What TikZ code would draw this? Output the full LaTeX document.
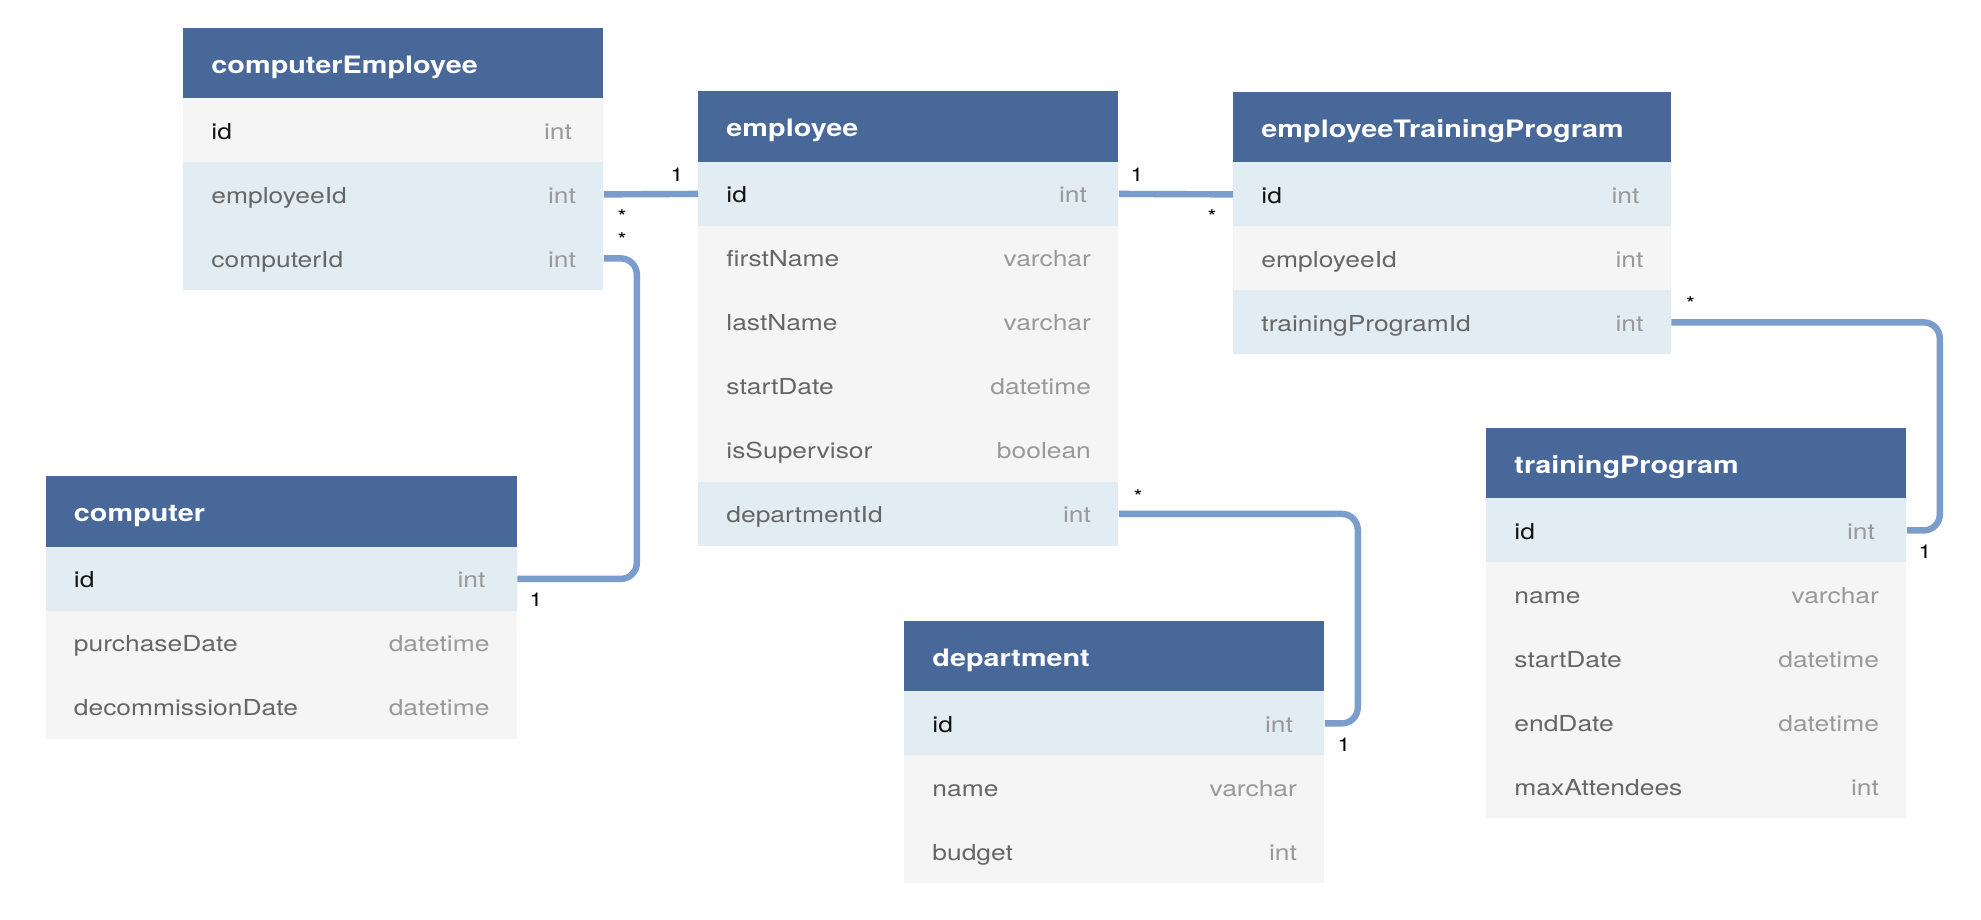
\documentclass[tikz,border=0pt]{standalone}
\usepackage{fontspec}
\newfontfamily\erdf{TeX Gyre Heros}[FakeStretch=1.2]
\usetikzlibrary{calc}
\definecolor{hdrc}{HTML}{48689A}
\definecolor{rowblue}{HTML}{E1ECF3}
\definecolor{rowgrey}{HTML}{F5F5F5}
\definecolor{linec}{HTML}{7B9DCC}
\definecolor{namec}{HTML}{666666}
\definecolor{typec}{HTML}{999999}
\definecolor{idc}{HTML}{111111}
\tikzset{
  hdr/.style={fill=hdrc, draw=none, inner sep=0pt, minimum height=35.25pt},
  hdrtxt/.style={inner sep=0pt, text=white, font=\erdf\fontsize{12}{14}\selectfont\bfseries},
  rowbox/.style={draw=none, inner sep=0pt, minimum height=32pt},
  fld/.style={inner sep=0pt, font=\erdf\fontsize{11}{13}\selectfont},
  typ/.style={inner sep=0pt, text=typec, font=\erdf\fontsize{11}{13}\selectfont},
  lbl/.style={inner sep=0pt, text=black, font=\erdf\fontsize{9.5}{11}\selectfont},
  conn/.style={draw=linec, line width=3.2pt, rounded corners=8pt}
}
\newcommand\tbl[5]{%
  \node[hdr, minimum width=#4*0.5pt, anchor=north west] (#1-h) at (#2,#3) {};
  \node[hdrtxt, anchor=base west] (#1-ht) at ($(#1-h.west)+(28,10)$) {#5};
  \gdef\tblkey{#1}\gdef\tblx{#2}\gdef\tbly{#3}\gdef\tblw{#4}}
\newcommand\trow[6]{%
  \node[rowbox, fill=#4, minimum width=\tblw*0.5pt, anchor=north west] (\tblkey-#2) at (\tblx,\tbly+70.5+64*#1) {};
  \node[fld, text=#5, anchor=base west] (\tblkey-#2-n) at ($(\tblkey-#2.west)+(28,9)$) {#2};
  \node[typ, anchor=base east] (\tblkey-#2-t) at ($(\tblkey-#2.east)+(-#6,9)$) {#3};}
\begin{document}
\begin{tikzpicture}[x=0.5pt, y=-0.5pt]
\fill[white] (0,0) rectangle (1981,920);
\useasboundingbox (0,0) rectangle (1981,920);

% computerEmployee
\tbl{ce}{183}{27.5}{420}{computerEmployee}
\trow{0}{id}{int}{rowgrey}{idc}{31.5}
\trow{1}{employeeId}{int}{rowblue}{namec}{27.5}
\trow{2}{computerId}{int}{rowblue}{namec}{27.5}

% employee
\tbl{emp}{698}{91}{420}{employee}
\trow{0}{id}{int}{rowblue}{idc}{31.5}
\trow{1}{firstName}{varchar}{rowgrey}{namec}{27.5}
\trow{2}{lastName}{varchar}{rowgrey}{namec}{27.5}
\trow{3}{startDate}{datetime}{rowgrey}{namec}{27.5}
\trow{4}{isSupervisor}{boolean}{rowgrey}{namec}{27.5}
\trow{5}{departmentId}{int}{rowblue}{namec}{27.5}

% employeeTrainingProgram
\tbl{etp}{1233}{91.5}{437.5}{employeeTrainingProgram}
\trow{0}{id}{int}{rowblue}{idc}{31.5}
\trow{1}{employeeId}{int}{rowgrey}{namec}{27.5}
\trow{2}{trainingProgramId}{int}{rowblue}{namec}{27.5}

% computer
\tbl{comp}{45.5}{476}{471}{computer}
\trow{0}{id}{int}{rowblue}{idc}{31.5}
\trow{1}{purchaseDate}{datetime}{rowgrey}{namec}{27.5}
\trow{2}{decommissionDate}{datetime}{rowgrey}{namec}{27.5}

% department
\tbl{dep}{904}{620.5}{420}{department}
\trow{0}{id}{int}{rowblue}{idc}{31.5}
\trow{1}{name}{varchar}{rowgrey}{namec}{27.5}
\trow{2}{budget}{int}{rowgrey}{namec}{27.5}

% trainingProgram
\tbl{tp}{1486}{427.5}{420}{trainingProgram}
\trow{0}{id}{int}{rowblue}{idc}{31.5}
\trow{1}{name}{varchar}{rowgrey}{namec}{27.5}
\trow{2}{startDate}{datetime}{rowgrey}{namec}{27.5}
\trow{3}{endDate}{datetime}{rowgrey}{namec}{27.5}
\trow{4}{maxAttendees}{int}{rowgrey}{namec}{27.5}

% connectors
\draw[conn] (ce-employeeId.east) -- (emp-id.west);
\draw[conn] (ce-computerId.east) -- ++(33,0) |- (comp-id.east);
\draw[conn] (emp-id.east) -- (etp-id.west);
\draw[conn] (etp-trainingProgramId.east) -- ++(268.5,0) |- (tp-id.east);
\draw[conn] (emp-departmentId.east) -- ++(239,0) |- (dep-id.east);

% cardinality labels
\node[lbl, anchor=base] (c1) at (677,181.7) {1};
\node[lbl, anchor=base] (c2) at (622,223) {*};
\node[lbl, anchor=base] (c3) at (622,246) {*};
\node[lbl, anchor=base] (c4) at (536,606.7) {1};
\node[lbl, anchor=base] (c5) at (1137,181.7) {1};
\node[lbl, anchor=base] (c6) at (1212,223) {*};
\node[lbl, anchor=base] (c7) at (1690.5,310) {*};
\node[lbl, anchor=base] (c8) at (1925,558.7) {1};
\node[lbl, anchor=base] (c9) at (1138,503) {*};
\node[lbl, anchor=base] (c10) at (1344,751.7) {1};
\end{tikzpicture}
\end{document}
